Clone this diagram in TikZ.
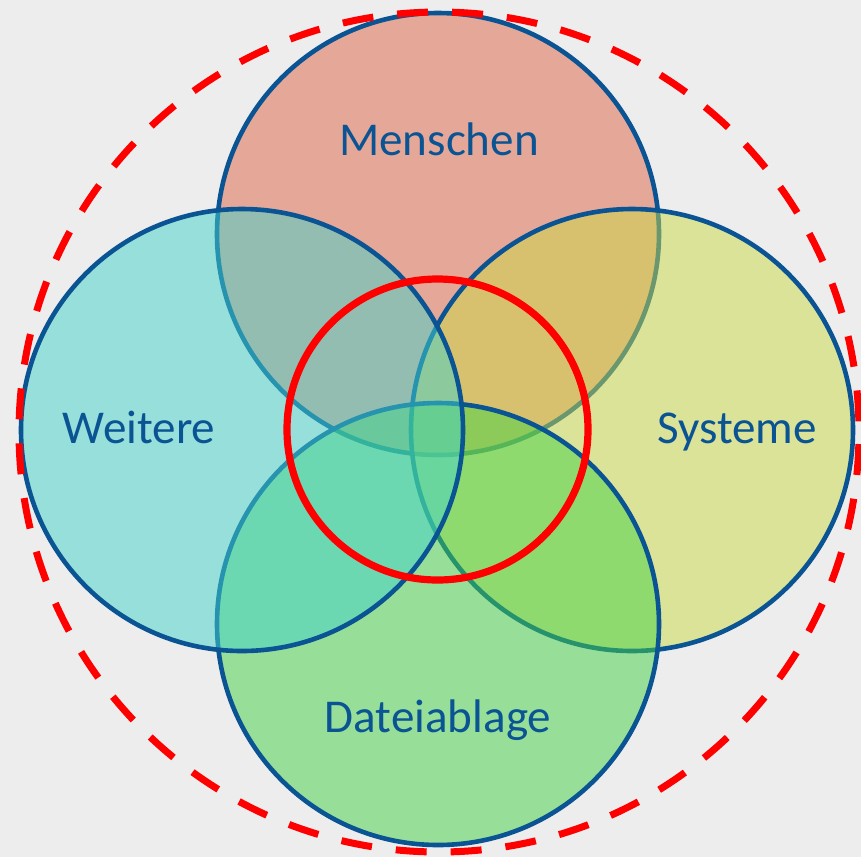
\documentclass[tikz,border=0pt]{standalone}
\usepackage{fontspec}
\setmainfont{Carlito}
\definecolor{backgray}{RGB}{237,237,237}
\definecolor{ringblue}{RGB}{10,84,148}
\definecolor{menschfill}{RGB}{223,101,69}
\definecolor{weiterfill}{RGB}{67,211,203}
\definecolor{systemfill}{RGB}{203,219,71}
\definecolor{ablagefill}{RGB}{67,211,71}
\begin{document}
\begin{tikzpicture}[x=0.025cm,y=-0.025cm]

    \tikzset{
      set/.style={
        draw=ringblue,
        line width=0.115cm,
        fill opacity=0.5,
      },
      setlabel/.style={
        text=ringblue,
        anchor=base,
        inner sep=0pt,
        font=\fontsize{33.5}{40}\selectfont,
      },
      core/.style={draw=red, line width=0.18cm},
      outerring/.style={draw=red, line width=0.175cm, dash pattern=on 0.775cm off 0.6cm, dash phase=1.075cm},
    }
    \fill[backgray] (0,0) rectangle (861,857);
    \useasboundingbox (0,0) rectangle (861,857);

	\coordinate (mensch c) at (438,234);
	\coordinate (system c) at (632,430);
	\coordinate (ablage c) at (438,624);
	\coordinate (weiter c) at (242,430);
	\coordinate (mitte c) at (437.5,429.5);
	\coordinate (rand c) at (439,432);

	\draw[set, fill=menschfill] (mensch c) circle [radius=221];
	\draw[set, fill=systemfill] (system c) circle [radius=221];
	\draw[set, fill=ablagefill] (ablage c) circle [radius=221];
	\draw[set, fill=weiterfill] (weiter c) circle [radius=221];

	\draw[core] (mitte c) circle [radius=150.5];
	\draw[outerring] (rand c) circle [radius=420];

	\node[setlabel] (menschen) at (439,155) {Menschen};
	\node[setlabel] (weitere) at (139,443) {Weitere};
	\node[setlabel] (systeme) at (737,443) {Systeme};
	\node[setlabel] (dateiablage) at (438,732) {Dateiablage};

\end{tikzpicture}
\end{document}
